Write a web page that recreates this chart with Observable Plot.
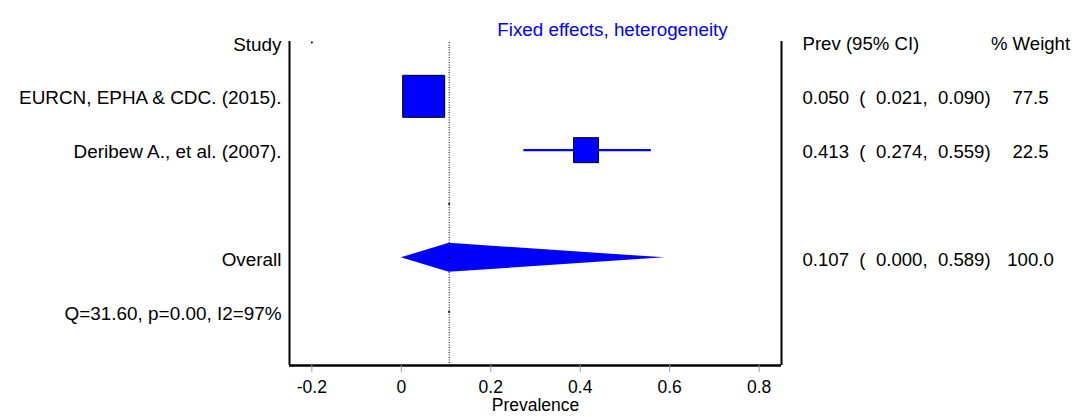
<!DOCTYPE html>
<html>
<head>
<meta charset="utf-8">
<script src="https://cdn.jsdelivr.net/npm/d3@7"></script>
<script src="https://cdn.jsdelivr.net/npm/@observablehq/plot@0.6"></script>
<style>
  html, body { margin: 0; padding: 0; background: #fff; }
  svg text { white-space: pre; }
</style>
</head>
<body>
<div id="chart"></div>
<script>
// ---- data ----
const studyNames = ["EURCN, EPHA & CDC. (2015).", "Deribew A., et al. (2007)."];
const studyEst = [0.050, 0.413];
const studyLo = [0.021, 0.274];
const studyHi = [0.090, 0.559];
const studyWeight = [77.5, 22.5];

const overallLabel = "Overall";
const overallEst = 0.107;
const overallLo = 0.000;
const overallHi = 0.589;
const overallWeight = 100.0;

const hetLabel = "Q=31.60, p=0.00, I2=97%";
const titleText = "Fixed effects, heterogeneity";
const headerStudy = "Study";
const headerCI = "Prev (95% CI)";
const headerWeight = "% Weight";
const axisLabel = "Prevalence";
const xTicks = [-0.2, 0, 0.2, 0.4, 0.6, 0.8];
const xDomain = [-0.25, 0.85];

// row layout (row index, top = 0)
const rowHeader = 0, rowStudies = [1, 2], rowBlank = 3, rowOverall = 4, rowHet = 5, rowBottom = 6;

// ---- derived tables ----
const f3 = d3.format(".3f");
const f1 = d3.format(".1f");
const studies = studyNames.map((name, i) => ({
  name, est: studyEst[i], lo: studyLo[i], hi: studyHi[i], w: studyWeight[i], row: rowStudies[i]
}));
const ciText = (e, l, h) => `${f3(e)}  (  ${f3(l)},  ${f3(h)})`;

const leftLabels = [
  {t: headerStudy, row: rowHeader},
  ...studies.map(s => ({t: s.name, row: s.row})),
  {t: overallLabel, row: rowOverall},
  {t: hetLabel, row: rowHet}
];
const ciLabels = [
  {t: headerCI, row: rowHeader},
  ...studies.map(s => ({t: ciText(s.est, s.lo, s.hi), row: s.row})),
  {t: ciText(overallEst, overallLo, overallHi), row: rowOverall}
];
const wLabels = [
  {t: headerWeight, row: rowHeader},
  ...studies.map(s => ({t: f1(s.w), row: s.row})),
  {t: f1(overallWeight), row: rowOverall}
];
const halfH = 0.27;
const diamond = [
  {y: rowOverall - halfH, x1: overallEst, x2: overallEst},
  {y: rowOverall, x1: overallLo, x2: overallHi},
  {y: rowOverall + halfH, x1: overallEst, x2: overallEst}
];
const specks = [
  {x: xTicks[0], row: rowHeader},
  {x: overallEst, row: rowBlank},
  {x: overallEst, row: rowOverall},
  {x: overallEst, row: rowHet}
];

const BLUE = "#0000ff";

const chart = Plot.plot({
  width: 1076,
  height: 417,
  marginLeft: 289,
  marginRight: 295,
  marginTop: 42,
  marginBottom: 52,
  style: {fontFamily: "'Liberation Sans', Arial, sans-serif", fontSize: "18px", color: "black", background: "white"},
  x: {domain: xDomain, axis: null},
  y: {domain: [rowHeader, rowBottom], reverse: true, axis: null},
  r: {type: "pow", exponent: 0.42, domain: [0, studyWeight[0]], range: [0, 23.7]},
  marks: [
    // null line (dotted) at overall estimate
    Plot.ruleX([overallEst], {y1: rowHeader, y2: rowBottom, stroke: "black", strokeWidth: 1, strokeDasharray: "1,1.5"}),
    // CI lines
    Plot.ruleY(studies, {y: "row", x1: "lo", x2: "hi", stroke: BLUE, strokeWidth: 2.2}),
    // study squares
    Plot.dot(studies, {x: "est", y: "row", r: "w", symbol: "square", fill: BLUE, stroke: "black", strokeWidth: 1}),
    // overall diamond
    Plot.areaX(diamond, {y: "y", x1: "x1", x2: "x2", fill: BLUE, curve: "linear"}),
    // small specks
    Plot.dot(specks, {x: "x", y: "row", r: 1, fill: "black", stroke: null}),
    // frame: left, right, bottom
    Plot.ruleX(xDomain, {y1: rowHeader - 0.02, y2: rowBottom, stroke: "black", strokeWidth: 2}),
    Plot.ruleY([rowBottom], {x1: xDomain[0], x2: xDomain[1], stroke: "black", strokeWidth: 2.4}),
    // x axis
    Plot.axisX(xTicks, {anchor: "bottom", tickSize: 7, tickPadding: 8, stroke: "#999", fill: "black",
      fontSize: 17.5, tickFormat: d => String(d), label: null}),
    Plot.text([axisLabel], {frameAnchor: "bottom", dy: 45, fontSize: 17.5, fill: "black"}),
    // title
    Plot.text([titleText], {frameAnchor: "top", dx: 77, dy: -20, fontSize: 18.8, fill: BLUE}),
    // left labels
    Plot.text(leftLabels, {y: "row", text: "t", frameAnchor: "left", textAnchor: "end", dx: -8, dy: 2, fontSize: 18.9, fill: "black"}),
    // right columns
    Plot.text(ciLabels, {y: "row", text: "t", frameAnchor: "right", textAnchor: "start", dx: 21, dy: 2, fontSize: 18.6, fill: "black"}),
    Plot.text(wLabels, {y: "row", text: "t", frameAnchor: "right", textAnchor: "middle", dx: 249, dy: 2, fontSize: 18.6, fill: "black"})
  ]
});
document.getElementById("chart").appendChild(chart);
</script>
</body>
</html>
